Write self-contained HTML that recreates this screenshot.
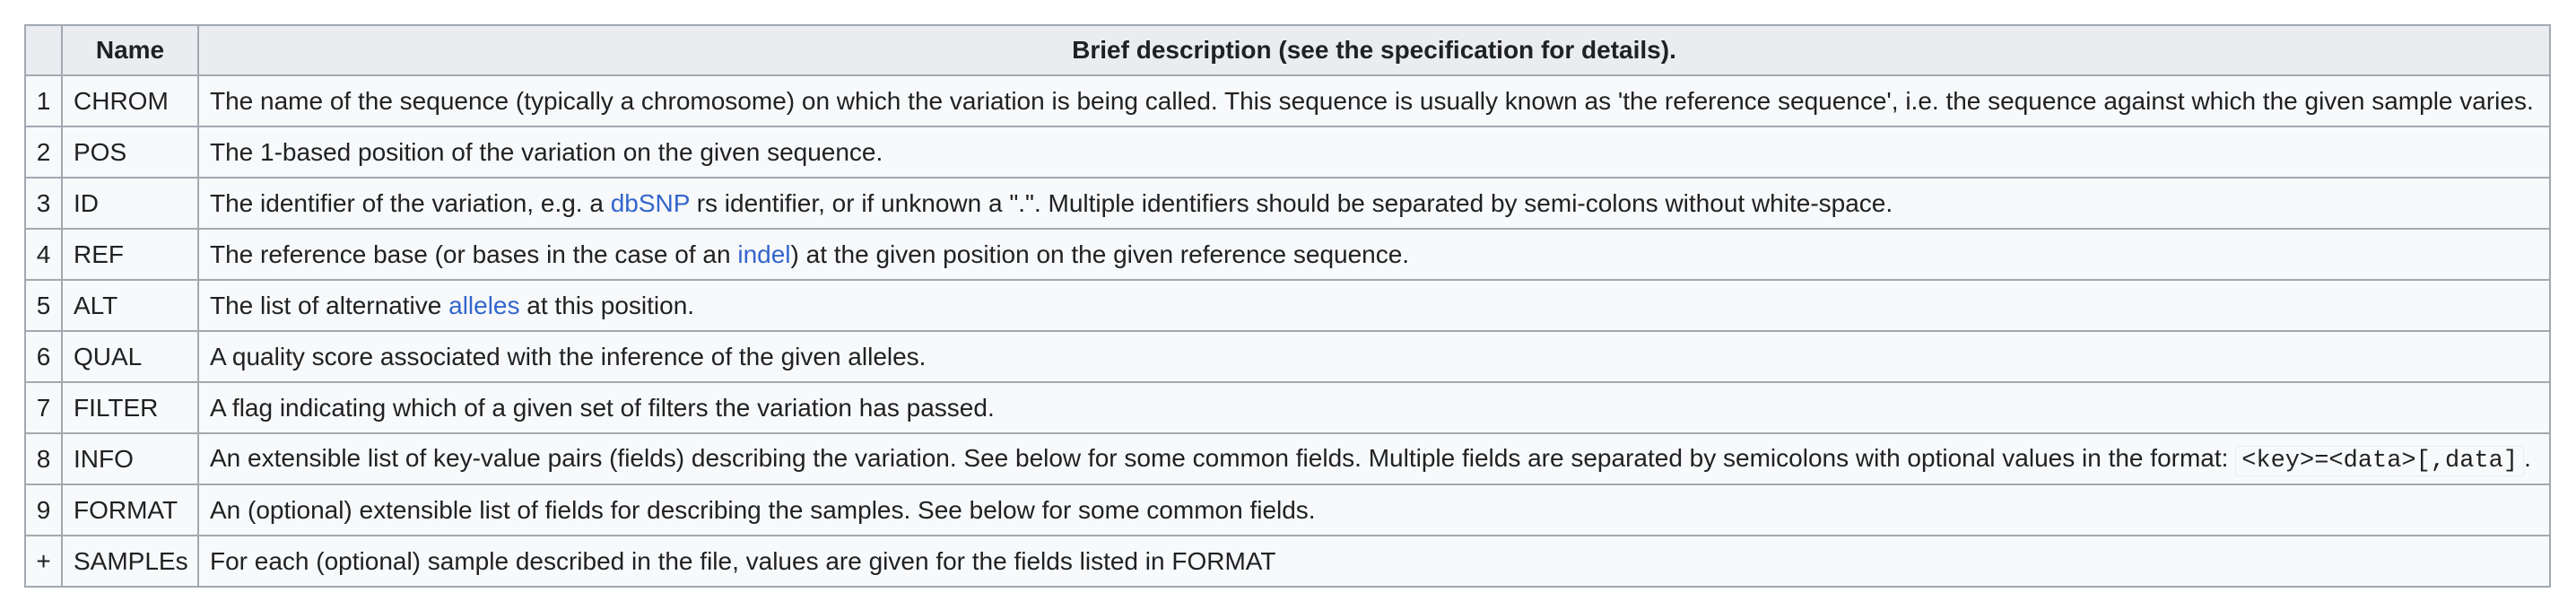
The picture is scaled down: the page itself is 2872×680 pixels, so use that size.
<!DOCTYPE html>
<html><head><meta charset="utf-8"><style>
html,body{margin:0;padding:0;background:#fff;width:2872px;height:680px;overflow:hidden}
table{position:absolute;left:27px;top:27px;width:2817px;border-collapse:collapse;table-layout:fixed;font-family:"Liberation Sans",Arial,sans-serif;font-size:28px;color:#202122;background:#f8f9fa}
td,th{border:2px solid #a2a9b1;padding:0 12px;white-space:nowrap;overflow:visible}
th{background:#eaecf0;font-weight:bold;text-align:center;height:54px}
td{height:55px}
td.n{text-align:center;padding:0}
a{color:#3366cc;text-decoration:none}
code{font-family:"Liberation Mono",monospace;background:#f8f9fa;border:1px solid #eaecf0;border-radius:2px;padding:1px 6px;font-size:27px}
</style></head><body>
<table>
<colgroup><col style="width:41px"><col style="width:152px"><col></colgroup>
<tr><th></th><th>Name</th><th>Brief description (see the specification for details).</th></tr>
<tr><td class="n">1</td><td>CHROM</td><td>The name of the sequence (typically a chromosome) on which the variation is being called. This sequence is usually known as 'the reference sequence', i.e. the sequence against which the given sample varies.</td></tr>
<tr><td class="n">2</td><td>POS</td><td>The 1-based position of the variation on the given sequence.</td></tr>
<tr><td class="n">3</td><td>ID</td><td>The identifier of the variation, e.g. a <a>dbSNP</a> rs identifier, or if unknown a ".". Multiple identifiers should be separated by semi-colons without white-space.</td></tr>
<tr><td class="n">4</td><td>REF</td><td>The reference base (or bases in the case of an <a>indel</a>) at the given position on the given reference sequence.</td></tr>
<tr><td class="n">5</td><td>ALT</td><td>The list of alternative <a>alleles</a> at this position.</td></tr>
<tr><td class="n">6</td><td>QUAL</td><td>A quality score associated with the inference of the given alleles.</td></tr>
<tr><td class="n">7</td><td>FILTER</td><td>A flag indicating which of a given set of filters the variation has passed.</td></tr>
<tr><td class="n">8</td><td>INFO</td><td>An extensible list of key-value pairs (fields) describing the variation. See below for some common fields. Multiple fields are separated by semicolons with optional values in the format: <code>&lt;key&gt;=&lt;data&gt;[,data]</code>.</td></tr>
<tr><td class="n">9</td><td>FORMAT</td><td>An (optional) extensible list of fields for describing the samples. See below for some common fields.</td></tr>
<tr><td class="n">+</td><td>SAMPLEs</td><td>For each (optional) sample described in the file, values are given for the fields listed in FORMAT</td></tr>
</table>
</body></html>
